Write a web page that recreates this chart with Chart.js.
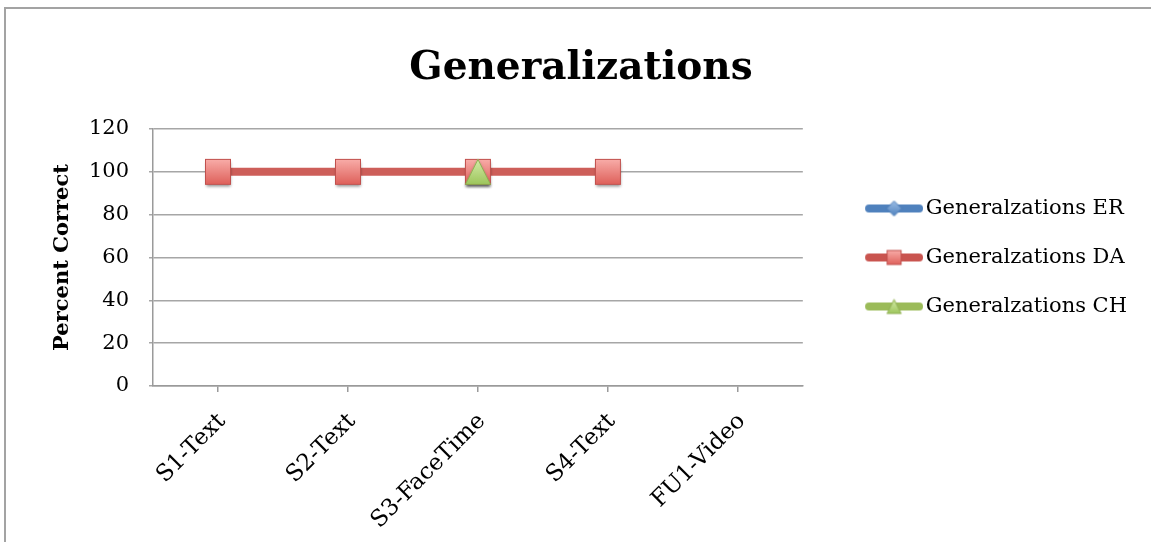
<!DOCTYPE html>
<html>
<head>
<meta charset="utf-8">
<script src="https://cdn.jsdelivr.net/npm/chart.js@4.4.1/dist/chart.umd.min.js"></script>
<style>
  html, body { margin: 0; padding: 0; background: #ffffff; overflow: hidden; }
  #wrap { position: relative; width: 1151px; height: 542px; }
  #frame { position: absolute; left: 4px; top: 7px; width: 1200px; height: 600px;
           border-top: 2px solid #a3a3a3; border-left: 2px solid #a3a3a3; }
  #c { position: absolute; left: 0; top: 0; }
</style>
</head>
<body>
<div id="wrap">
  <div id="frame"></div>
  <canvas id="c" width="1151" height="542"></canvas>
</div>
<script>
// ---- data ----
const categories = ['S1-Text', 'S2-Text', 'S3-FaceTime', 'S4-Text', 'FU1-Video'];
const seriesNames = ['Generalzations ER', 'Generalzations DA', 'Generalzations CH'];
const erValues = [null, null, null, null, null];
const daValues = [100, 100, 100, 100, null];
const chValues = [null, null, 100, null, null];
const yTickMin = 0;
const yTickMax = 120;
const yTickStep = 20;
const chartTitle = 'Generalizations';
const yAxisTitle = 'Percent Correct';

const FONT = "'DejaVu Serif', 'Liberation Serif', serif";
const PAD_L = 25, PAD_R = 14;

// ---- marker images ----
function makeMarker(kind, size, pad, withShadow) {
  const W = size + pad * 2;
  const c = document.createElement('canvas');
  c.width = W; c.height = W;
  const ctx = c.getContext('2d');
  const x0 = pad, y0 = pad, s = size;
  ctx.save();
  if (withShadow) {
    ctx.shadowColor = 'rgba(0,0,0,0.45)';
    ctx.shadowBlur = 3;
    ctx.shadowOffsetY = 2;
  }
  ctx.beginPath();
  let g = ctx.createLinearGradient(0, y0, 0, y0 + s);
  if (kind === 'square') {
    g.addColorStop(0, '#f9aeaa');
    g.addColorStop(1, '#de5f59');
    ctx.rect(x0 + 0.5, y0 + 0.5, s - 1, s - 1);
    ctx.fillStyle = g; ctx.fill();
    ctx.restore();
    ctx.strokeStyle = '#c0504d'; ctx.lineWidth = 1;
    ctx.strokeRect(x0 + 0.5, y0 + 0.5, s - 1, s - 1);
  } else if (kind === 'triangle') {
    g.addColorStop(0, '#d6edab');
    g.addColorStop(1, '#9cc55a');
    ctx.moveTo(x0 + s / 2, y0);
    ctx.lineTo(x0 + s, y0 + s);
    ctx.lineTo(x0, y0 + s);
    ctx.closePath();
    ctx.fillStyle = g; ctx.fill();
    ctx.restore();
    ctx.beginPath();
    ctx.moveTo(x0 + s / 2, y0 + 0.5);
    ctx.lineTo(x0 + s - 0.5, y0 + s - 0.5);
    ctx.lineTo(x0 + 0.5, y0 + s - 0.5);
    ctx.closePath();
    ctx.strokeStyle = '#8fae52'; ctx.lineWidth = 1; ctx.stroke();
  } else {
    g.addColorStop(0, '#9cbde6');
    g.addColorStop(1, '#4f81bd');
    ctx.moveTo(x0 + s / 2, y0);
    ctx.lineTo(x0 + s, y0 + s / 2);
    ctx.lineTo(x0 + s / 2, y0 + s);
    ctx.lineTo(x0, y0 + s / 2);
    ctx.closePath();
    ctx.fillStyle = g; ctx.fill();
    ctx.restore();
    ctx.strokeStyle = '#4a7ab3'; ctx.lineWidth = 1; ctx.stroke();
  }
  return c;
}

// legend sample: transparent left part, line + marker on the right part
function makeLegendImage(kind, color) {
  const W = 100, H = 22;
  const c = document.createElement('canvas');
  c.width = W; c.height = H;
  const ctx = c.getContext('2d');
  ctx.strokeStyle = color;
  ctx.lineWidth = 8;
  ctx.lineCap = 'round';
  ctx.beginPath();
  ctx.moveTo(46, H / 2);
  ctx.lineTo(96, H / 2);
  ctx.stroke();
  const m = makeMarker(kind, 15, 2, false);
  ctx.drawImage(m, 71 - m.width / 2, (H - m.height) / 2);
  return c;
}

const squareImg = makeMarker('square', 26, 6, true);
const triangleImg = makeMarker('triangle', 26, 6, true);
const diamondImg = makeMarker('diamond', 18, 6, true);

const legendImgs = [
  makeLegendImage('diamond', '#4f81bd'),
  makeLegendImage('square', '#c9544f'),
  makeLegendImage('triangle', '#9bbb59')
];

const ctx = document.getElementById('c').getContext('2d');

new Chart(ctx, {
  type: 'line',
  data: {
    labels: categories,
    datasets: [
      {
        label: seriesNames[0], data: erValues, order: 2,
        borderColor: '#4f81bd', borderWidth: 8, pointStyle: diamondImg,
        pointRadius: 10, spanGaps: false, borderCapStyle: 'round'
      },
      {
        label: seriesNames[1], data: daValues, order: 1,
        borderColor: '#cd5e59', borderWidth: 8, pointStyle: squareImg,
        pointRadius: 13, spanGaps: false, borderCapStyle: 'round'
      },
      {
        label: seriesNames[2], data: chValues, order: 0,
        borderColor: '#9bbb59', borderWidth: 8, pointStyle: triangleImg,
        pointRadius: 13, spanGaps: false, borderCapStyle: 'round'
      }
    ]
  },
  options: {
    responsive: false,
    devicePixelRatio: 1,
    animation: false,
    layout: { padding: { left: PAD_L, top: 10, right: PAD_R, bottom: 0 } },
    plugins: {
      tooltip: { enabled: false },
      title: {
        display: true, text: chartTitle, color: '#000',
        font: { family: FONT, size: 39, weight: 'bold' },
        padding: { top: 35.2, bottom: 37 }
      },
      legend: {
        position: 'right', align: 'center', fullSize: false, maxWidth: 400,
        labels: {
          usePointStyle: true, pointStyleWidth: 84.5,
          color: '#000', padding: 28,
          font: { family: FONT, size: 21 },
          generateLabels: function (chart) {
            return chart.data.datasets.map(function (ds, i) {
              return {
                text: ds.label, pointStyle: legendImgs[i], fontColor: '#000',
                hidden: false, datasetIndex: i, lineWidth: 0,
                strokeStyle: 'rgba(0,0,0,0)', fillStyle: 'rgba(0,0,0,0)'
              };
            });
          }
        }
      }
    },
    scales: {
      x: {
        offset: true,
        grid: { display: true, drawOnChartArea: false, offset: false, tickLength: 6, color: '#9a9a9a', lineWidth: 1.5 },
        border: { display: true, color: '#9a9a9a', width: 1.5 },
        ticks: { color: '#000', font: { family: FONT, size: 23 }, minRotation: 45, maxRotation: 45, padding: 16, labelOffset: 4, autoSkip: false },
        afterFit: function (scale) { scale.height = 156; }
      },
      y: {
        min: yTickMin, max: yTickMax,
        grid: { color: '#a6a6a6', lineWidth: 1.5, tickLength: 4 },
        border: { display: true, color: '#9a9a9a', width: 1.5 },
        ticks: { stepSize: yTickStep, color: '#000', font: { family: FONT, size: 21 }, padding: 20 },
        title: { display: true, text: yAxisTitle, color: '#000', font: { family: FONT, size: 21, weight: 'bold' }, padding: { top: 25.4, bottom: 0 } },
        afterFit: function (scale) { scale.width = 153 - PAD_L; }
      }
    }
  }
});
</script>
</body>
</html>
